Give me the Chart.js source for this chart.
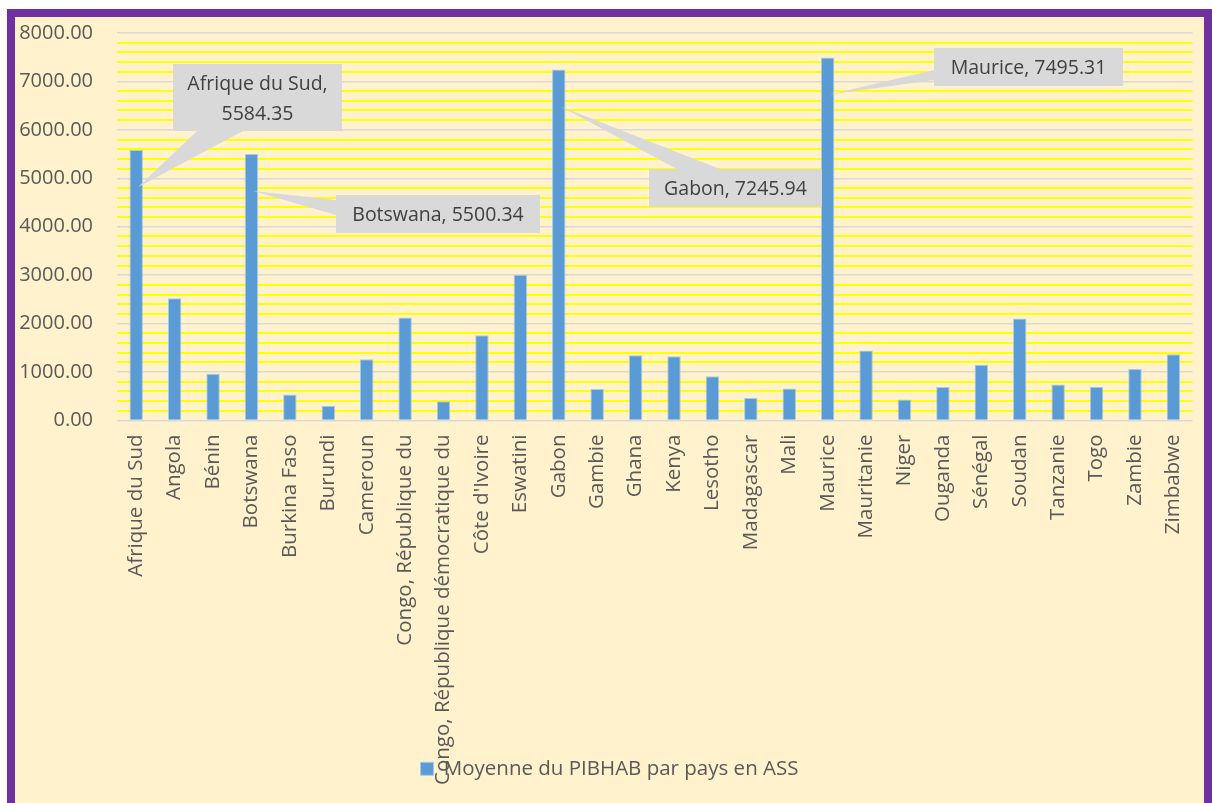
<!DOCTYPE html>
<html>
<head>
<meta charset="utf-8">
<script src="https://cdn.jsdelivr.net/npm/chart.js@4.4.1/dist/chart.umd.min.js"></script>
<style>
  body { margin: 0; background: #fff; }
  #cadre {
    position: absolute; left: 7px; top: 9px;
    width: 1189px; height: 786px;
    border: 8px solid #7030A0; border-bottom: none;
    background: #FFF2CC;
  }
  canvas { display: block; }
</style>
</head>
<body>
<div id="cadre"><canvas id="graphe" width="1189" height="786"></canvas></div>
<script>
// Données
const pays = ['Afrique du Sud', 'Angola', 'Bénin', 'Botswana', 'Burkina Faso', 'Burundi', 'Cameroun',
  'Congo, République du', 'Congo, République démocratique du', "Côte d'Ivoire", 'Eswatini', 'Gabon',
  'Gambie', 'Ghana', 'Kenya', 'Lesotho', 'Madagascar', 'Mali', 'Maurice', 'Mauritanie', 'Niger',
  'Ouganda', 'Sénégal', 'Soudan', 'Tanzanie', 'Togo', 'Zambie', 'Zimbabwe'];
const pibhab = [5584.35, 2525, 966, 5500.34, 538, 304, 1263,
  2126, 400, 1760, 3008, 7245.94,
  648, 1346, 1325, 911, 462, 663, 7495.31, 1443, 435,
  690, 1153, 2105, 745, 695, 1062, 1366];
const graduations = [0, 1000, 2000, 3000, 4000, 5000, 6000, 7000, 8000];
const etiquettes = ['Afrique du Sud', 'Botswana', 'Gabon', 'Maurice'];

const police = '"Open Sans", Lato, sans-serif';

// Bulles des étiquettes (position de la boîte et base de la pointe)
const bulles = [
  { nom: 'Afrique du Sud', x: 158, y: 47, w: 169, h: 67, lignes: true, base: [[182, 114], [228, 114]] },
  { nom: 'Botswana', x: 321, y: 178, w: 204, h: 38, base: [[321, 183], [321, 198]] },
  { nom: 'Gabon', x: 634, y: 152, w: 173, h: 38, base: [[662, 152], [705, 152]] },
  { nom: 'Maurice', x: 919, y: 31, w: 189, h: 38, base: [[919, 53], [919, 63]] }
];

const pluginBulles = {
  id: 'bulles',
  afterLayout(chart) {
    // les étiquettes longues débordent sur la légende, comme dans Excel
    chart.scales.x.bottom = chart.height;
  },
  afterDatasetsDraw(chart) {
    const ctx = chart.ctx;
    const meta = chart.getDatasetMeta(0);
    ctx.save();
    bulles.forEach(b => {
      if (!etiquettes.includes(b.nom)) return;
      const i = pays.indexOf(b.nom);
      const barre = meta.data[i];
      const px = barre.x + 2, py = barre.y + 37;
      ctx.fillStyle = '#D9D9D9';
      ctx.beginPath();
      ctx.moveTo(px, py);
      ctx.lineTo(b.base[0][0], b.base[0][1]);
      ctx.lineTo(b.base[1][0], b.base[1][1]);
      ctx.closePath();
      ctx.fill();
      ctx.fillRect(b.x, b.y, b.w, b.h);
      ctx.fillStyle = '#404040';
      ctx.font = '19.5px ' + police;
      ctx.textAlign = 'center';
      ctx.textBaseline = 'middle';
      const valeur = pibhab[i].toFixed(2);
      const cx = b.x + b.w / 2;
      if (b.lignes) {
        ctx.fillText(b.nom + ',', cx, b.y + 20);
        ctx.fillText(valeur, cx, b.y + 50);
      } else {
        ctx.fillText(b.nom + ', ' + valeur, cx, b.y + b.h / 2 + 1);
      }
    });
    ctx.restore();
  }
};

new Chart(document.getElementById('graphe'), {
  type: 'bar',
  data: {
    labels: pays,
    datasets: [{
      label: 'Moyenne du PIBHAB par pays en ASS',
      data: pibhab,
      backgroundColor: '#5B9BD5',
      borderColor: '#A9C9E8',
      borderWidth: 1,
      categoryPercentage: 1,
      barPercentage: 0.35
    }]
  },
  options: {
    responsive: false,
    animation: false,
    layout: { padding: { top: 16, right: 0, left: 0, bottom: 14 } },
    plugins: {
      tooltip: { enabled: false },
      legend: {
        position: 'bottom',
        labels: {
          boxWidth: 13, boxHeight: 13, padding: 10,
          color: '#595959',
          font: { family: police, size: 20.5 }
        }
      }
    },
    scales: {
      x: {
        grid: { display: false },
        border: { display: false },
        ticks: {
          color: '#595959',
          font: { family: police, size: 20.5 },
          minRotation: 90, maxRotation: 90,
          autoSkip: false, padding: 6
        },
        afterFit(scale) { scale.height = 328; }
      },
      y: {
        min: 0, max: 8000,
        border: { display: false },
        grid: {
          drawTicks: false,
          lineWidth: c => graduations.includes(c.tick.value) ? 1.5 : 2,
          color: c => graduations.includes(c.tick.value) ? '#D9D9D9' : '#FFFF00'
        },
        ticks: {
          stepSize: 200,
          autoSkip: false,
          padding: 24,
          color: '#595959',
          font: { family: police, size: 20 },
          callback: v => graduations.includes(v) ? v.toFixed(2) : ''
        },
        afterFit(scale) {
          scale.width = 102;
          scale.paddingTop = 0;
          scale.paddingBottom = 0;
        }
      }
    }
  },
  plugins: [pluginBulles]
});
</script>
</body>
</html>
